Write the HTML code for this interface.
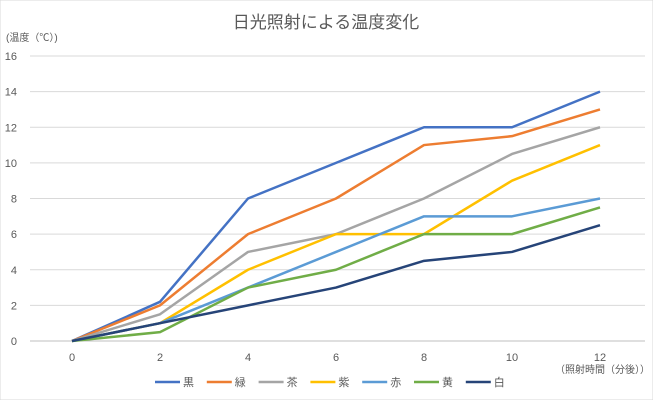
<!DOCTYPE html>
<html><head><meta charset="utf-8"><style>
body{margin:0;background:#fff;}
svg text{font-family:"Liberation Sans","Noto Sans CJK JP",sans-serif;fill:#595959;}
</style></head><body>
<svg id="chart" width="653" height="400">
<rect width="653" height="400" fill="#fff" stroke="#d9d9d9"/>
<text x="326" y="28" font-size="17" text-anchor="middle">日光照射による温度変化</text>
<text x="6" y="41" font-size="10">(温度（℃）)</text>
<text x="650" y="373" font-size="10" text-anchor="end">（照射時間（分後））</text>
<g id="grid"></g><g id="series"></g><g id="legend"></g>
</svg>
<script>
const categories=[0,2,4,6,8,10,12];
const yTicks=[0,2,4,6,8,10,12,14,16];
const seriesNames=["黒","緑","茶","紫","赤","黄","白"];
const seriesColors=["#4472C4","#ED7D31","#A5A5A5","#FFC000","#5B9BD5","#70AD47","#264478"];
const kuro=[0,2.2,8,10,12,12,14];
const midori=[0,2,6,8,11,11.5,13];
const cha=[0,1.5,5,6,8,10.5,12];
const murasaki=[0,1,4,6,6,9,11];
const aka=[0,1,3,5,7,7,8];
const ki=[0,0.5,3,4,6,6,7.5];
const shiro=[0,1,2,3,4.5,5,6.5];
const seriesValues=[kuro,midori,cha,murasaki,aka,ki,shiro];
const NS="http://www.w3.org/2000/svg";
const X=v=>72+v*44;
const Y=v=>341-v*(285/16);
const grid=document.getElementById('grid');
yTicks.forEach(t=>{
 const l=document.createElementNS(NS,'line');
 
 
 l.setAttribute('x1',30);l.setAttribute('x2',645);l.setAttribute('y1',Y(t));l.setAttribute('y2',Y(t));
 l.setAttribute('stroke',t===0?'#bfbfbf':'#d9d9d9');l.setAttribute('stroke-width',1);
 grid.appendChild(l);
 const tx=document.createElementNS(NS,'text');
 
 
 tx.setAttribute('x',17);tx.setAttribute('y',Y(t)+4);tx.setAttribute('font-size',11);tx.setAttribute('text-anchor','end');
 tx.textContent=t;grid.appendChild(tx);
});
categories.forEach(c=>{
 const tx=document.createElementNS(NS,'text');
 
 
 tx.setAttribute('x',X(c));tx.setAttribute('y',361);tx.setAttribute('font-size',11);tx.setAttribute('text-anchor','middle');
 tx.textContent=c;grid.appendChild(tx);
});
const sg=document.getElementById('series');
seriesValues.forEach((vals,i)=>{
 const p=document.createElementNS(NS,'polyline');
 
 
 p.setAttribute('points',vals.map((v,j)=>X(categories[j])+','+Y(v)).join(' '));
 p.setAttribute('fill','none');p.setAttribute('stroke',seriesColors[i]);p.setAttribute('stroke-width',2.5);
 p.setAttribute('stroke-linejoin','round');
 sg.appendChild(p);
});
const lg=document.getElementById('legend');
seriesNames.forEach((n,i)=>{
 const x=155+i*51.8;
 const l=document.createElementNS(NS,'line');
 
 
 l.setAttribute('x1',x);l.setAttribute('x2',x+25);l.setAttribute('y1',382);l.setAttribute('y2',382);
 l.setAttribute('stroke',seriesColors[i]);l.setAttribute('stroke-width',2.5);
 lg.appendChild(l);
 const t=document.createElementNS(NS,'text');
 
 
 t.setAttribute('x',x+28);t.setAttribute('y',386);t.setAttribute('font-size',11);
 t.textContent=n;lg.appendChild(t);
});
</script>
</body></html>
